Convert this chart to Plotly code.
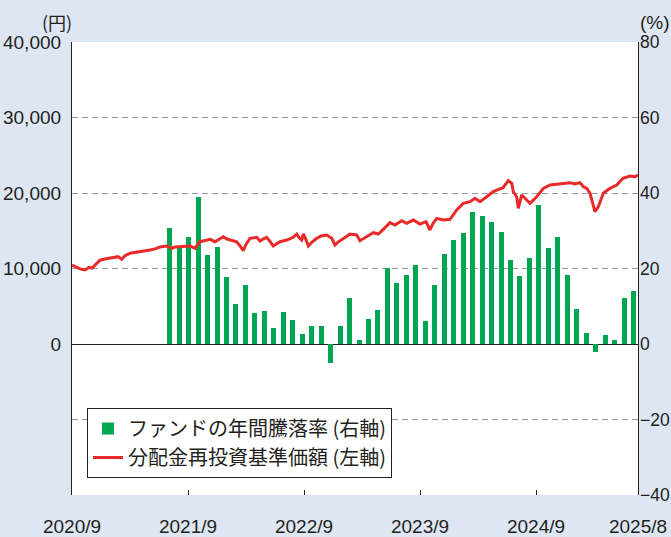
import pandas as pd
import plotly.graph_objects as go

# ---- data ----
# annual return of the fund (%), monthly, 2021/7 .. 2025/8
bar_start = "2021-07"
bar_values = [30.7, 25.4, 28.3, 39.0, 23.6, 25.7, 17.7, 10.6, 15.6, 8.1,
              8.7, 4.2, 8.4, 6.3, 2.7, 4.8, 4.8, -5.1, 4.8, 12.2,
              1.1, 6.6, 9.0, 20.2, 16.2, 18.3, 21.0, 6.1, 15.7, 23.9,
              27.6, 29.5, 34.9, 34.0, 32.2, 29.8, 22.3, 18.1, 22.8, 36.9,
              25.5, 28.4, 18.3, 9.3, 2.9, -2.1, 2.4, 1.1, 12.2, 14.1]
bar_months = [d.strftime("%Y/%m") for d in pd.date_range(bar_start, periods=len(bar_values), freq="MS")]

# NAV with dividends reinvested (yen); time in months since 2020/9
nav_t = [0.00, 0.41, 0.83, 1.34, 1.76, 2.07, 2.48, 2.90, 3.41, 3.93, 4.45, 4.76, 5.14, 5.48,
         6.00, 6.52, 7.03, 7.55, 8.07, 8.59, 9.10, 9.80, 10.31, 10.66, 11.17, 11.69, 12.21,
         12.72, 13.24, 13.76, 14.28, 14.79, 15.21, 15.65, 16.03, 16.35, 17.04, 17.38, 17.72,
         18.00, 18.41, 19.11, 19.45, 19.76, 20.14, 20.48, 20.82, 21.21, 21.52, 22.21, 22.89,
         23.25, 23.48, 23.76, 23.93, 24.21, 24.45, 24.83, 25.31, 25.76, 26.35, 26.87, 27.21,
         27.52, 27.90, 28.35, 28.76, 29.45, 29.79, 30.31, 30.72, 31.17, 31.69, 32.20, 32.59,
         32.90, 33.41, 34.11, 34.62, 35.31, 36.00, 36.62, 37.03, 37.35, 37.73, 38.41, 39.10,
         39.80, 40.48, 41.17, 41.69, 42.21, 42.90, 43.58, 44.07, 44.59, 45.14, 45.49, 45.65,
         46.00, 46.17, 46.52, 47.04, 47.38, 48.07, 48.76, 49.45, 50.31, 51.00, 51.52, 52.03,
         52.55, 52.90, 53.25, 53.59, 53.93, 54.10, 54.45, 54.96, 55.66, 56.35, 57.00, 57.72,
         58.24, 58.55]
nav_values = [10460, 10200, 9950, 9800, 10150, 10050, 10600, 11100, 11250, 11350, 11500, 11570, 11220, 11700,
              12010, 12100, 12230, 12350, 12450, 12600, 12850, 12980, 12680, 12850, 12900, 12950, 12980,
              12680, 13550, 13700, 13870, 13550, 13900, 14210, 13900, 13770, 13550, 13000, 12360,
              13200, 14000, 14130, 13640, 13900, 14130, 13600, 12980, 13300, 13550, 13770, 14130,
              14570, 14100, 13770, 14570, 13800, 12980, 13500, 14000, 14300, 14440, 14000, 13110,
              13500, 13770, 14200, 14570, 14440, 13680, 14130, 14400, 14740, 14570, 15190, 15700,
              16070, 15760, 16330, 15990, 16420, 15890, 16200, 15100, 16000, 16640, 16420, 16510,
              17750, 18630, 18850, 19300, 18850, 19510, 20200, 20450, 20700, 21630, 21280, 20170,
              19510, 17970, 19740, 19070, 18630, 19510, 20620, 21060, 21190, 21280, 21370, 21190,
              21370, 20830, 20620, 19960, 18190, 17520, 18190, 19960, 20620, 21060, 21950, 22250,
              22160, 22380]

x_tick_vals = [0, 12, 24, 36, 48, 58.55]
x_tick_text = ["2020/9", "2021/9", "2022/9", "2023/9", "2024/9", "2025/8"]
yen_ticks = [-20000, -10000, 0, 10000, 20000, 30000, 40000]
yen_text = ["", "", "0", "10,000", "20,000", "30,000", "40,000"]
pct_ticks = [-40, -20, 0, 20, 40, 60, 80]
pct_text = ["\u221240", "\u221220", "0", "20", "40", "60", "80"]

BG = "#dee6f4"
GREEN = "#00a651"
RED = "#ea2a2a"
INK = "#231f20"
NUM_FONT = "Liberation Sans Narrow, Liberation Sans, Arial, sans-serif"
JP_FONT = "Noto Sans CJK JP, sans-serif"

fig = go.Figure()
fig.add_trace(go.Bar(
    x=bar_months, y=bar_values, name="ファンドの年間騰落率 (右軸)",
    marker=dict(color=GREEN, line=dict(width=0)), width=0.53,
    xaxis="x", yaxis="y",
))
fig.add_trace(go.Scatter(
    x=nav_t, y=nav_values, name="分配金再投資基準価額 (左軸)",
    mode="lines", line=dict(color=RED, width=3),
    xaxis="x2", yaxis="y2",
))

fig.update_layout(
    width=671, height=537,
    margin=dict(l=72, r=33, t=42, b=42, autoexpand=False),
    paper_bgcolor=BG, plot_bgcolor="white",
    showlegend=True,
    bargap=0,
    xaxis=dict(type="category", range=[-10.32, 49.47], showticklabels=False,
               showgrid=False, zeroline=False, showline=False, ticks="",
               automargin=False),
    yaxis=dict(side="right", range=[-40, 80], tickvals=pct_ticks, ticktext=pct_text,
               showgrid=False, zeroline=False, showline=False, ticks="",
               ticklabelstandoff=1, automargin=False,
               tickfont=dict(family=NUM_FONT, size=17.5, color=INK)),
    xaxis2=dict(overlaying="x", side="bottom", range=[0, 58.55],
                tickvals=x_tick_vals, ticktext=x_tick_text,
                ticks="inside", ticklen=5, tickcolor=INK, tickwidth=1,
                showgrid=False, zeroline=False, showline=False,
                ticklabelstandoff=18, automargin=False,
                tickfont=dict(family=NUM_FONT, size=19, color=INK)),
    yaxis2=dict(overlaying="y", side="left", range=[-20000, 40000],
                tickvals=yen_ticks, ticktext=yen_text,
                showgrid=True, gridcolor="#9a9a9a", griddash="6px,4px", gridwidth=1,
                zeroline=True, zerolinecolor=INK, zerolinewidth=1.2,
                showline=True, linecolor=INK, linewidth=1.2, mirror=True,
                ticks="", ticklabelstandoff=6, automargin=False,
                tickfont=dict(family=NUM_FONT, size=19, color=INK)),
    legend=dict(x=0.0265, y=0.0375, xanchor="left", yanchor="bottom",
                bgcolor="white", bordercolor=INK, borderwidth=1,
                font=dict(family=JP_FONT, size=20, color=INK),
                traceorder="normal", itemwidth=30),
    annotations=[
        dict(text="(円)", xref="paper", yref="paper", x=-0.0265, y=1.045,
             xanchor="center", yanchor="middle", showarrow=False,
             font=dict(family=JP_FONT, size=18, color=INK)),
        dict(text="(%)", xref="paper", yref="paper", x=1.03, y=1.042,
             xanchor="center", yanchor="middle", showarrow=False,
             font=dict(family=NUM_FONT, size=19, color=INK)),
    ],
)

fig.write_html(
    "out.html",
    config={"displayModeBar": False},
    post_script="document.body.style.margin='0';document.body.style.background='%s';" % BG,
)
